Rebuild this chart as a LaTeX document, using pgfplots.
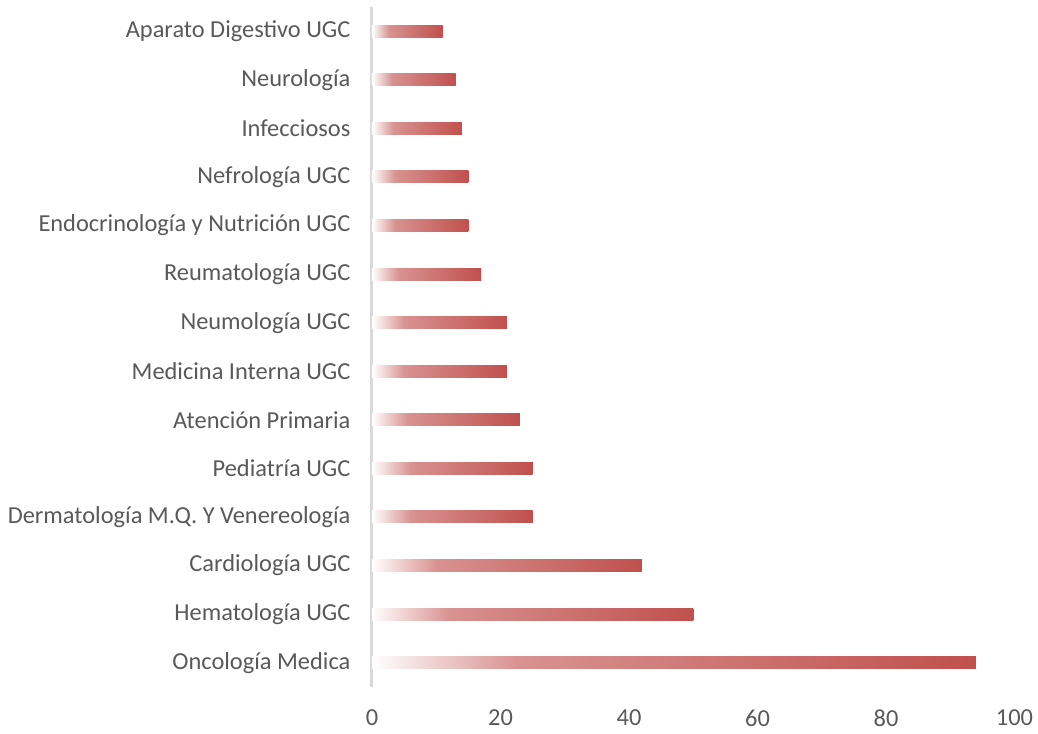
\documentclass[border=0pt]{standalone}
\usepackage{pgfplots}
\usepackage{fontspec}
\pgfplotsset{compat=1.18}
\setmainfont{Carlito}
\definecolor{barred}{HTML}{C0504D}
\definecolor{axgray}{HTML}{D9D9D9}
\definecolor{txtgray}{HTML}{595959}
% white on the left, quick rise to pink, then slow to red
\pgfdeclarehorizontalshading{barshade}{100bp}{color(0bp)=(white); color(25bp)=(white); color(37bp)=(barred!62); color(75bp)=(barred); color(100bp)=(barred)}

\begin{document}
\begin{tikzpicture}
\useasboundingbox (-279pt,-35.25pt) rectangle (499.5pt,515.25pt);
\begin{axis}[
    at={(0,0)}, anchor=south west,
    scale only axis,
    width=481.9pt, height=510pt,
    xbar, bar width=9pt, bar shift=0pt,
    xmin=0, xmax=100,
    ymin=-0.5, ymax=13.5,
    xtick={0,20,...,100},
    ytick={0,...,13},
    yticklabels={Oncología Medica, Hematología UGC, Cardiología UGC,
      Dermatología M.Q. Y Venereología, Pediatría UGC, Atención Primaria,
      Medicina Interna UGC, Neumología UGC, Reumatología UGC,
      Endocrinología y Nutrición UGC, Nefrología UGC, Infecciosos,
      Neurología, Aparato Digestivo UGC},
    axis x line*=bottom, axis y line*=left,
    x axis line style={draw=none},
    y axis line style={draw=axgray, line width=2.25pt, -},
    major tick length=0pt,
    tick style={draw=none},
    font=\fontsize{18.3}{21}\selectfont,
    ticklabel style={text=txtgray, inner sep=0pt},
    yticklabel style={anchor=east, xshift=-16pt},
    xticklabel style={anchor=north, yshift=-17pt},
    /pgf/number format/assume math mode=true,
    every axis plot/.append style={draw=none, shading=barshade, shading angle=0},
]
% one plot per bar so that each bar gets its own gradient
\addplot coordinates {(94,0)};
\addplot coordinates {(50,1)};
\addplot coordinates {(42,2)};
\addplot coordinates {(25,3)};
\addplot coordinates {(25,4)};
\addplot coordinates {(23,5)};
\addplot coordinates {(21,6)};
\addplot coordinates {(21,7)};
\addplot coordinates {(17,8)};
\addplot coordinates {(15,9)};
\addplot coordinates {(15,10)};
\addplot coordinates {(14,11)};
\addplot coordinates {(13,12)};
\addplot coordinates {(11,13)};
\end{axis}
\end{tikzpicture}
\end{document}
